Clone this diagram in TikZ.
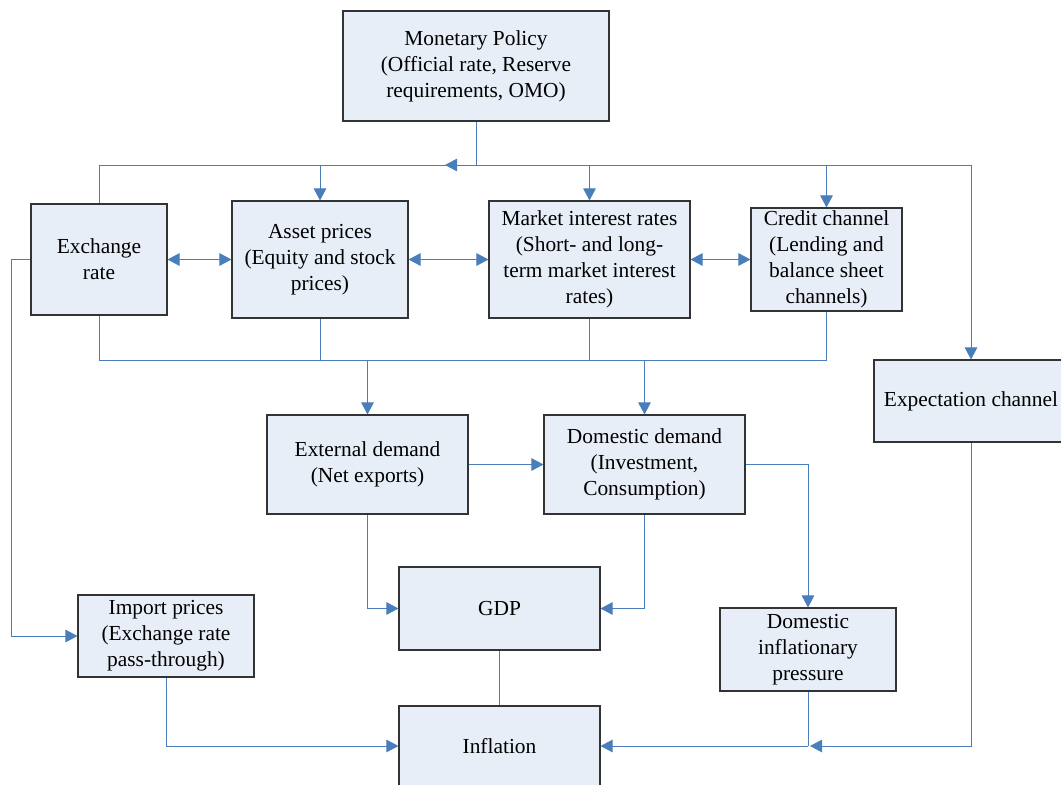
\documentclass[tikz,border=0pt]{standalone}
\usepackage{fontspec}
\setmainfont{Liberation Serif}
\usetikzlibrary{arrows.meta}
\definecolor{lineblue}{HTML}{4A7EBB}
\definecolor{boxfill}{HTML}{E8EEF8}
\definecolor{boxdraw}{HTML}{333333}
\begin{document}
\begin{tikzpicture}[x=1pt,y=-1pt,
  box/.style={draw=boxdraw, line width=1.1pt, fill=boxfill, inner sep=0pt, align=center, font=\fontsize{21.4}{26}\selectfont},
  conn/.style={draw=lineblue, line width=1pt},
  arr/.style={conn, -{Triangle[length=12pt,width=12.5pt]}},
  darr/.style={conn, {Triangle[length=12pt,width=12.5pt]}-{Triangle[length=12pt,width=12.5pt]}}]
\useasboundingbox (0,0) rectangle (1061,785);
\clip (0,0) rectangle (1061,785);
\fill[white] (0,0) rectangle (1061,785);
% nodes
\node[box, minimum width=266pt, minimum height=110pt] (mp) at (476,66) {Monetary Policy\\(Official rate, Reserve\\requirements, OMO)};
\node[box, minimum width=136pt, minimum height=111pt] (ex) at (99,259.5) {Exchange\\rate};
\node[box, minimum width=176pt, minimum height=117pt] (ap) at (320,259.5) {Asset prices\\(Equity and stock\\prices)};
\node[box, minimum width=201pt, minimum height=117pt] (mi) at (589.5,259.5) {Market interest rates\\(Short- and long-\\term market interest\\rates)};
\node[box, minimum width=151pt, minimum height=103pt] (cc) at (826.5,259.5) {Credit channel\\(Lending and\\balance sheet\\channels)};
\node[box, minimum width=194pt, minimum height=82pt] (ec) at (971,401) {Expectation channel};
\node[box, minimum width=201pt, minimum height=99pt] (ed) at (367.5,464.5) {External demand\\(Net exports)};
\node[box, minimum width=201pt, minimum height=99pt] (dd) at (644.5,464.5) {Domestic demand\\(Investment,\\Consumption)};
\node[box, minimum width=201pt, minimum height=83pt] (gdp) at (499.5,608.5) {GDP};
\node[box, minimum width=176pt, minimum height=82pt] (ip) at (166,636) {Import prices\\(Exchange rate\\pass-through)};
\node[box, minimum width=176pt, minimum height=83pt] (dip) at (808,649.5) {Domestic\\inflationary\\pressure};
\node[box, minimum width=201pt, minimum height=80pt] (inf) at (499.5,746) {Inflation};
% coordinates
\coordinate (tb) at (476,165);
\coordinate (tbl) at (99,165);
\coordinate (tbr) at (971,165);
\coordinate (tba) at (445,165);
\coordinate (bbl) at (99,360);
\coordinate (bbr) at (826.5,360);
\coordinate (lx) at (11,259.5);
\coordinate (jb) at (808,746);
\coordinate (ja) at (810,746);
% top bus
\draw[conn] (mp.south) -- (tb);
\draw[conn] (tbl) -- (tbr);
\draw[arr] (tb) -- (tba);
\draw[conn] (tbl) -- (ex.north);
\draw[arr] (ap.north |- tb) -- (ap.north);
\draw[arr] (mi.north |- tb) -- (mi.north);
\draw[arr] (cc.north |- tb) -- (cc.north);
\draw[arr] (tbr) -- (ec.north);
% double arrows
\draw[darr] (ex.east) -- (ap.west);
\draw[darr] (ap.east) -- (mi.west);
\draw[darr] (mi.east) -- (cc.west);
% bottom bus
\draw[conn] (ex.south) -- (bbl) -- (bbr) -- (cc.south);
\draw[conn] (ap.south) -- (ap.south |- bbl);
\draw[conn] (mi.south) -- (mi.south |- bbl);
\draw[arr] (ed.north |- bbl) -- (ed.north);
\draw[arr] (dd.north |- bbl) -- (dd.north);
% lower part
\draw[arr] (ex.west) -- (lx) |- (ip.west);
\draw[arr] (ed.east) -- (dd.west);
\draw[arr] (ed.south) |- (gdp.west);
\draw[arr] (dd.south) |- (gdp.east);
\draw[arr] (dd.east) -| (dip.north);
\draw[conn] (gdp.south) -- (inf.north);
\draw[arr] (ip.south) |- (inf.west);
\draw[conn] (dip.south) -- (jb);
\draw[arr] (ec.south) |- (ja);
\draw[arr] (jb) -- (inf.east);
\end{tikzpicture}
\end{document}
